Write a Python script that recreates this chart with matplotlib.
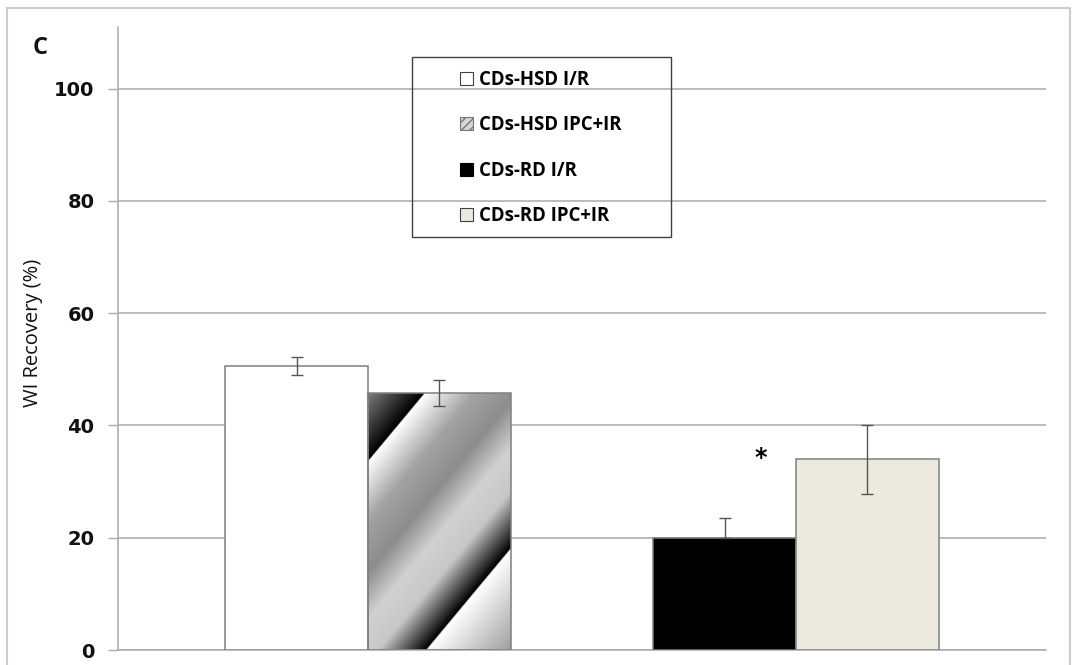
import numpy as np
import matplotlib
matplotlib.use("Agg")
import matplotlib.pyplot as plt
from matplotlib.patches import Rectangle, Patch
from matplotlib.font_manager import FontProperties

# values per bar (mean and error), two groups of two bars
groups = ["CDs-HSD", "CDs-RD"]
series = ["CDs-HSD I/R", "CDs-HSD IPC+IR", "CDs-RD I/R", "CDs-RD IPC+IR"]
means = [50.6, 45.8, 20.0, 34.0]
err_hi = [1.6, 2.3, 3.6, 6.1]
err_lo = [1.6, 2.4, 0.0, 6.2]
group_idx = [0, 0, 1, 1]
side = [-1, 1, -1, 1]
yticks = [0, 20, 40, 60, 80, 100]
ylabel = "WI Recovery (%)"
panel = "C"
star_bar = 2
star_y = 34.2

W, H = 1078, 665
GRID = "#a9a9a9"
EDGE = "#7f7f7f"

plt.rcParams["hatch.linewidth"] = 1.0
fig = plt.figure(figsize=(W / 100, H / 100), dpi=100)
ax = fig.add_axes([118 / W, 15 / H, 928 / W, 623 / H])
ax.set_xlim(-0.584, 1.584)
ax.set_ylim(0, 111)

width = 0.333
xs = [group_idx[i] + side[i] * width / 2 for i in range(len(means))]
faces = ["white", "none", "black", "#ECEADF"]

bars = ax.bar(xs, means, width, color=faces, edgecolor=EDGE, linewidth=1.1, zorder=3)


def stripe_fill(w_px, h_px, n=400):
    # diagonal two-band gradient, as used for the IPC+IR bar of the HSD group
    gx, gy = np.meshgrid(np.linspace(0, w_px, n), np.linspace(0, h_px, n))
    q = (1.2 * gx + gy) / (1.2 * w_px + h_px)
    qs = [0.0, 0.159, 0.161, 0.30, 0.42, 0.53, 0.63, 0.762, 0.765, 1.0]
    vs = [0.5, 0.0, 1.0, 0.64, 0.55, 0.82, 0.78, 0.0, 1.0, 0.62]
    return np.interp(q, qs, vs)


b = bars[1]
l, r = b.get_x(), b.get_x() + b.get_width()
p0 = ax.transData.transform((l, 0))
p1 = ax.transData.transform((r, b.get_height()))
img = ax.imshow(stripe_fill(p1[0] - p0[0], p1[1] - p0[1]), cmap="gray", vmin=0, vmax=1,
                extent=(l, r, 0, b.get_height()), aspect="auto",
                interpolation="bilinear", zorder=2.5)
img.set_clip_path(b)

ax.errorbar(xs, means, yerr=[err_lo, err_hi], fmt="none", ecolor="#555555",
            elinewidth=1.0, capsize=4, capthick=1.0, zorder=4)

ax.text(xs[star_bar] + 0.085, star_y, "*", ha="center", va="center",
        fontsize=17, fontweight="bold", color="black", zorder=5)

ax.set_xlim(-0.584, 1.584)
ax.set_ylim(0, 111)
ax.set_yticks(yticks)
ax.set_xticks([])
ax.yaxis.grid(True, color=GRID, linewidth=1.1)
ax.set_axisbelow(True)
ax.tick_params(axis="y", direction="out", length=7, width=1, color=GRID,
               pad=10, labelsize=14, labelcolor="#111111")
for lbl in ax.get_yticklabels():
    lbl.set_fontweight("bold")
for s in ["top", "right"]:
    ax.spines[s].set_visible(False)
for s in ["left", "bottom"]:
    ax.spines[s].set_color(GRID)
    ax.spines[s].set_linewidth(1.1)

fig.text(33 / W, 1 - 333 / H, ylabel, rotation=90, ha="center", va="center",
         family="Open Sans", fontsize=14.5, color="#111111")
fig.text(40 / W, 1 - 48 / H, panel, ha="center", va="center",
         family="Open Sans", fontweight="bold", fontsize=17, color="#111111")

handles = [
    Patch(facecolor="white", edgecolor="#404040", linewidth=0.8),
    Patch(facecolor="#d6d6d6", edgecolor="#777777", hatch="////", linewidth=0.8),
    Patch(facecolor="black", edgecolor="black", linewidth=0.8),
    Patch(facecolor="#ECEADF", edgecolor="#404040", linewidth=0.8),
]
ax.legend(handles, series, loc="upper left", bbox_to_anchor=(460 / W, 1 - 70 / H),
          bbox_transform=fig.transFigure, frameon=False,
          prop=FontProperties(family="Open Sans", weight="bold", size=13.4),
          handlelength=0.7, handleheight=0.7, handletextpad=0.3,
          labelspacing=1.37, borderpad=0, borderaxespad=0)
fig.add_artist(Rectangle((412 / W, 1 - 237 / H), 259 / W, 180 / H,
                         transform=fig.transFigure, fill=False,
                         edgecolor="#404040", linewidth=1.0))

# light outer frame around the whole panel
fig.add_artist(Rectangle((7 / W, -0.1), 1063 / W, 1.1 - 8 / H,
                         transform=fig.transFigure, fill=False,
                         edgecolor="#cccccc", linewidth=1.5))

fig.savefig("out.png", dpi=100)
